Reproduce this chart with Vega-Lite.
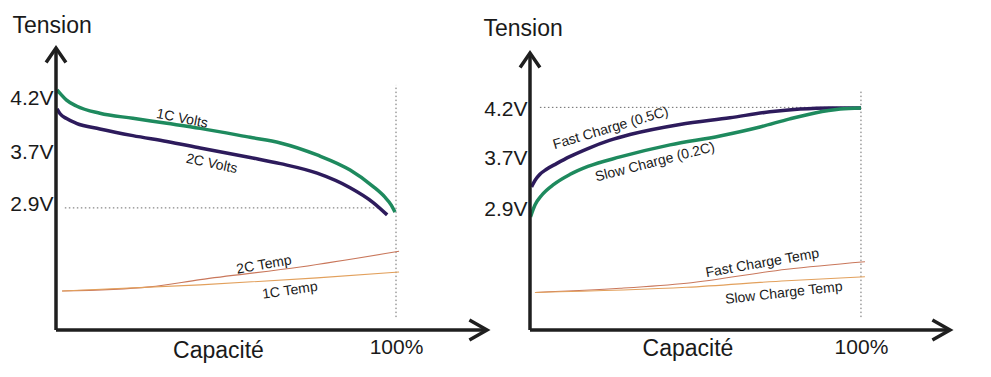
{
  "$schema": "https://vega.github.io/schema/vega-lite/v6.json",
  "autosize": {"type": "none"},
  "padding": {"left": 56, "top": 48, "right": 935, "bottom": 329},
  "background": "white",
  "config": {
    "view": {"stroke": null},
    "font": "Liberation Sans",
    "axis": {"grid": false, "domain": false, "ticks": false, "tickSize": 0, "labelFont": "Liberation Sans", "titleFont": "Liberation Sans", "labelColor": "#1a1a1a", "titleColor": "#1a1a1a", "labelFontSize": 21, "titleFontSize": 23, "titleFontWeight": "normal", "labelOverlap": false, "labelBound": false, "labelFlush": false}
  },
  "datasets": {
    "leftAxes": [{"x": 0, "y": 0, "x2": 0, "y2": 100.7}, {"x": 0, "y": 0, "x2": 126.76, "y2": 0}],
    "leftArrowX": [{"x": 126.76, "y": 0}],
    "leftArrowY": [{"x": 0, "y": 100.7}],
    "leftDots": [{"x": 2.6, "y": 43.6, "x2": 95.3, "y2": 43.6}, {"x": 100, "y": 4.6, "x2": 100, "y2": 87.5}],
    "leftVolts": [
      {"s": "1C Volts", "x": 0.3, "y": 85.7}, {"s": "1C Volts", "x": 1.2, "y": 84.5}, {"s": "1C Volts", "x": 3.1, "y": 82.1}, {"s": "1C Volts", "x": 6, "y": 80}, {"s": "1C Volts", "x": 12.9, "y": 77.4}, {"s": "1C Volts", "x": 22.6, "y": 75.6}, {"s": "1C Volts", "x": 32.6, "y": 73.8}, {"s": "1C Volts", "x": 42.4, "y": 72}, {"s": "1C Volts", "x": 57.1, "y": 68.8}, {"s": "1C Volts", "x": 66, "y": 66.8}, {"s": "1C Volts", "x": 76.8, "y": 62.5}, {"s": "1C Volts", "x": 86.5, "y": 57.1}, {"s": "1C Volts", "x": 93.2, "y": 51.3}, {"s": "1C Volts", "x": 96.6, "y": 47.6}, {"s": "1C Volts", "x": 98.6, "y": 44.6}, {"s": "1C Volts", "x": 99.7, "y": 42.1},
      {"s": "2C Volts", "x": 0.3, "y": 79}, {"s": "2C Volts", "x": 1.2, "y": 77.2}, {"s": "2C Volts", "x": 3.1, "y": 75.5}, {"s": "2C Volts", "x": 6, "y": 73.8}, {"s": "2C Volts", "x": 12.9, "y": 71.8}, {"s": "2C Volts", "x": 22.6, "y": 69.4}, {"s": "2C Volts", "x": 32.6, "y": 67.3}, {"s": "2C Volts", "x": 42.4, "y": 65.0}, {"s": "2C Volts", "x": 57.1, "y": 61.6}, {"s": "2C Volts", "x": 66, "y": 59.4}, {"s": "2C Volts", "x": 76.8, "y": 56.0}, {"s": "2C Volts", "x": 86.5, "y": 50.8}, {"s": "2C Volts", "x": 93.2, "y": 45.6}, {"s": "2C Volts", "x": 97.4, "y": 41.1}
    ],
    "leftTemp": [
      {"s": "2C Temp", "x": 1.8, "y": 13.9}, {"s": "2C Temp", "x": 27.6, "y": 15.4}, {"s": "2C Temp", "x": 42.4, "y": 18.0}, {"s": "2C Temp", "x": 71.8, "y": 22.5}, {"s": "2C Temp", "x": 100.9, "y": 28.1},
      {"s": "1C Temp", "x": 1.8, "y": 13.9}, {"s": "1C Temp", "x": 42.4, "y": 16.1}, {"s": "1C Temp", "x": 76.8, "y": 18.6}, {"s": "1C Temp", "x": 100.9, "y": 20.7}
    ],
    "rightAxes": [{"x": 0, "y": 0, "x2": 0, "y2": 98.9}, {"x": 0, "y": 0, "x2": 126.9, "y2": 0}],
    "rightArrowX": [{"x": 126.9, "y": 0}],
    "rightArrowY": [{"x": 0, "y": 98.9}],
    "rightDots": [{"x": 3.0, "y": 79.5, "x2": 100, "y2": 79.5}, {"x": 100, "y": 4.6, "x2": 100, "y2": 85.7}],
    "rightVolts": [
      {"s": "Fast Charge (0.5C)", "x": 0.45, "y": 51.1}, {"s": "Fast Charge (0.5C)", "x": 1.5, "y": 53.4}, {"s": "Fast Charge (0.5C)", "x": 3, "y": 55.6}, {"s": "Fast Charge (0.5C)", "x": 5, "y": 57.4}, {"s": "Fast Charge (0.5C)", "x": 8, "y": 59.4}, {"s": "Fast Charge (0.5C)", "x": 12, "y": 61.9}, {"s": "Fast Charge (0.5C)", "x": 17.5, "y": 64.8}, {"s": "Fast Charge (0.5C)", "x": 24, "y": 67.7}, {"s": "Fast Charge (0.5C)", "x": 30.2, "y": 69.8}, {"s": "Fast Charge (0.5C)", "x": 45.3, "y": 73.4}, {"s": "Fast Charge (0.5C)", "x": 60.4, "y": 75.8}, {"s": "Fast Charge (0.5C)", "x": 72.5, "y": 77.9}, {"s": "Fast Charge (0.5C)", "x": 81.6, "y": 78.9}, {"s": "Fast Charge (0.5C)", "x": 90.6, "y": 79.3}, {"s": "Fast Charge (0.5C)", "x": 100, "y": 79.3},
      {"s": "Slow Charge (0.2C)", "x": 0.15, "y": 40.4}, {"s": "Slow Charge (0.2C)", "x": 1.5, "y": 44.6}, {"s": "Slow Charge (0.2C)", "x": 3.6, "y": 48.2}, {"s": "Slow Charge (0.2C)", "x": 7.3, "y": 52.1}, {"s": "Slow Charge (0.2C)", "x": 12, "y": 55.5}, {"s": "Slow Charge (0.2C)", "x": 17.5, "y": 58.4}, {"s": "Slow Charge (0.2C)", "x": 27.2, "y": 61.8}, {"s": "Slow Charge (0.2C)", "x": 42.3, "y": 66.1}, {"s": "Slow Charge (0.2C)", "x": 57.4, "y": 69.3}, {"s": "Slow Charge (0.2C)", "x": 69.5, "y": 72.5}, {"s": "Slow Charge (0.2C)", "x": 78.5, "y": 75.4}, {"s": "Slow Charge (0.2C)", "x": 86.1, "y": 77.5}, {"s": "Slow Charge (0.2C)", "x": 93.7, "y": 78.9}, {"s": "Slow Charge (0.2C)", "x": 100, "y": 79.3}
    ],
    "rightTemp": [
      {"s": "Fast Charge Temp", "x": 1.5, "y": 13.4}, {"s": "Fast Charge Temp", "x": 27.2, "y": 14.9}, {"s": "Fast Charge Temp", "x": 47.3, "y": 16.7}, {"s": "Fast Charge Temp", "x": 77.6, "y": 21.7}, {"s": "Fast Charge Temp", "x": 101.2, "y": 24.4},
      {"s": "Slow Charge Temp", "x": 1.5, "y": 13.4}, {"s": "Slow Charge Temp", "x": 47.3, "y": 15.25}, {"s": "Slow Charge Temp", "x": 77.6, "y": 17.6}, {"s": "Slow Charge Temp", "x": 101.2, "y": 19.0}
    ]
  },
  "hconcat": [
    {
      "width": 431,
      "height": 282,
      "resolve": {"scale": {"color": "independent"}},
      "encoding": {
        "x": {"field": "x", "type": "quantitative", "scale": {"domain": [0, 126.76], "nice": false, "zero": false},
          "axis": {"values": [100], "labelExpr": "'100%'", "labelBaseline": "alphabetic", "labelPadding": 23, "labelDx": 3, "labelAlign": "center", "title": "Capacité", "titleX": 162, "titleY": 27, "titleAlign": "center", "titleBaseline": "alphabetic", "titleAnchor": null}},
        "y": {"field": "y", "type": "quantitative", "scale": {"domain": [0, 100.7], "nice": false, "zero": false},
          "axis": {"values": [44.9, 63.4, 82.6], "labelExpr": "datum.value > 80 ? '4.2V' : datum.value > 60 ? '3.7V' : '2.9V'", "labelPadding": 3, "labelBaseline": "middle", "title": "Tension", "titleAngle": 0, "titleAlign": "left", "titleBaseline": "alphabetic", "titleX": -44, "titleY": -16}}
      },
      "layer": [
        {"data": {"name": "leftDots"}, "mark": {"type": "rule", "color": "#6a6a6a", "strokeWidth": 1, "strokeDash": [1.5, 2.5]}, "encoding": {"x2": {"field": "x2"}, "y2": {"field": "y2"}}},
        {"data": {"name": "leftTemp"}, "mark": {"type": "line", "strokeWidth": 1.1, "interpolate": "monotone"}, "encoding": {"color": {"field": "s", "type": "nominal", "scale": {"domain": ["2C Temp", "1C Temp"], "range": ["#c9775b", "#e2a05c"]}, "legend": null}}},
        {"data": {"name": "leftVolts"}, "mark": {"type": "line", "strokeWidth": 3.5, "interpolate": "monotone"}, "encoding": {"color": {"field": "s", "type": "nominal", "scale": {"domain": ["1C Volts", "2C Volts"], "range": ["#1e8a5e", "#2d1b5c"]}, "legend": null}}},
        {"data": {"name": "leftAxes"}, "mark": {"type": "rule", "color": "#1f1f1f", "strokeWidth": 3.5}, "encoding": {"x2": {"field": "x2"}, "y2": {"field": "y2"}}},
        {"data": {"name": "leftArrowX"}, "mark": {"type": "point", "shape": "M-1.1,-0.62L0,0L-1.1,0.62", "size": 1024, "filled": false, "stroke": "#1f1f1f", "strokeWidth": 3.5, "opacity": 1}},
        {"data": {"name": "leftArrowY"}, "mark": {"type": "point", "shape": "M-0.62,0.9L0,0L0.62,0.9", "size": 1024, "filled": false, "stroke": "#1f1f1f", "strokeWidth": 3.5, "opacity": 1}},
        {"data": {"values": [{"t": "1C Volts", "x": 37.1, "y": 75.4}]}, "mark": {"type": "text", "fontSize": 14, "angle": 11, "color": "#1a1a1a", "align": "center", "baseline": "middle"}, "encoding": {"text": {"field": "t"}}},
        {"data": {"values": [{"t": "2C Volts", "x": 45.8, "y": 59.3}]}, "mark": {"type": "text", "fontSize": 14, "angle": 12, "color": "#1a1a1a", "align": "center", "baseline": "middle"}, "encoding": {"text": {"field": "t"}}},
        {"data": {"values": [{"t": "2C Temp", "x": 61.2, "y": 23.2}]}, "mark": {"type": "text", "fontSize": 14, "angle": 350.3, "color": "#1a1a1a", "align": "center", "baseline": "middle"}, "encoding": {"text": {"field": "t"}}},
        {"data": {"values": [{"t": "1C Temp", "x": 68.8, "y": 14.0}]}, "mark": {"type": "text", "fontSize": 14, "angle": 351.6, "color": "#1a1a1a", "align": "center", "baseline": "middle"}, "encoding": {"text": {"field": "t"}}}
      ]
    },
    {
      "width": 420,
      "height": 282,
      "resolve": {"scale": {"color": "independent"}},
      "encoding": {
        "x": {"field": "x", "type": "quantitative", "scale": {"domain": [0, 126.9], "nice": false, "zero": false},
          "axis": {"values": [100], "labelExpr": "'100%'", "labelBaseline": "alphabetic", "labelPadding": 23, "labelDx": 3, "labelAlign": "center", "title": "Capacité", "titleX": 157.5, "titleY": 25, "titleAlign": "center", "titleBaseline": "alphabetic", "titleAnchor": null}},
        "y": {"field": "y", "type": "quantitative", "scale": {"domain": [0, 100.7], "nice": false, "zero": false},
          "axis": {"values": [42.9, 61.3, 78.6], "labelExpr": "datum.value > 75 ? '4.2V' : datum.value > 55 ? '3.7V' : '2.9V'", "labelPadding": 3, "labelBaseline": "middle", "title": "Tension", "titleAngle": 0, "titleAlign": "left", "titleBaseline": "alphabetic", "titleX": -47, "titleY": -13}}
      },
      "layer": [
        {"data": {"name": "rightDots"}, "mark": {"type": "rule", "color": "#6a6a6a", "strokeWidth": 1, "strokeDash": [1.5, 2.5]}, "encoding": {"x2": {"field": "x2"}, "y2": {"field": "y2"}}},
        {"data": {"name": "rightTemp"}, "mark": {"type": "line", "strokeWidth": 1.1, "interpolate": "monotone"}, "encoding": {"color": {"field": "s", "type": "nominal", "scale": {"domain": ["Fast Charge Temp", "Slow Charge Temp"], "range": ["#c9775b", "#e2a05c"]}, "legend": null}}},
        {"data": {"name": "rightVolts"}, "mark": {"type": "line", "strokeWidth": 3.5, "interpolate": "monotone"}, "encoding": {"color": {"field": "s", "type": "nominal", "scale": {"domain": ["Slow Charge (0.2C)", "Fast Charge (0.5C)"], "range": ["#1e8a5e", "#2d1b5c"]}, "legend": null}}},
        {"data": {"name": "rightAxes"}, "mark": {"type": "rule", "color": "#1f1f1f", "strokeWidth": 3.5}, "encoding": {"x2": {"field": "x2"}, "y2": {"field": "y2"}}},
        {"data": {"name": "rightArrowX"}, "mark": {"type": "point", "shape": "M-1.1,-0.62L0,0L-1.1,0.62", "size": 1024, "filled": false, "stroke": "#1f1f1f", "strokeWidth": 3.5, "opacity": 1}},
        {"data": {"name": "rightArrowY"}, "mark": {"type": "point", "shape": "M-0.62,0.9L0,0L0.62,0.9", "size": 1024, "filled": false, "stroke": "#1f1f1f", "strokeWidth": 3.5, "opacity": 1}},
        {"data": {"values": [{"t": "Fast Charge (0.5C)", "x": 24.4, "y": 72.0}]}, "mark": {"type": "text", "fontSize": 14, "angle": 343.5, "color": "#1a1a1a", "align": "center", "baseline": "middle"}, "encoding": {"text": {"field": "t"}}},
        {"data": {"values": [{"t": "Slow Charge (0.2C)", "x": 37.8, "y": 59.9}]}, "mark": {"type": "text", "fontSize": 14, "angle": 345.6, "color": "#1a1a1a", "align": "center", "baseline": "middle"}, "encoding": {"text": {"field": "t"}}},
        {"data": {"values": [{"t": "Fast Charge Temp", "x": 70.2, "y": 23.8}]}, "mark": {"type": "text", "fontSize": 14, "angle": 350.1, "color": "#1a1a1a", "align": "center", "baseline": "middle"}, "encoding": {"text": {"field": "t"}}},
        {"data": {"values": [{"t": "Slow Charge Temp", "x": 76.7, "y": 13.1}]}, "mark": {"type": "text", "fontSize": 14, "angle": 353.6, "color": "#1a1a1a", "align": "center", "baseline": "middle"}, "encoding": {"text": {"field": "t"}}}
      ]
    }
  ],
  "spacing": 43,
  "bounds": "flush",
  "resolve": {"scale": {"x": "independent", "y": "independent"}}
}
